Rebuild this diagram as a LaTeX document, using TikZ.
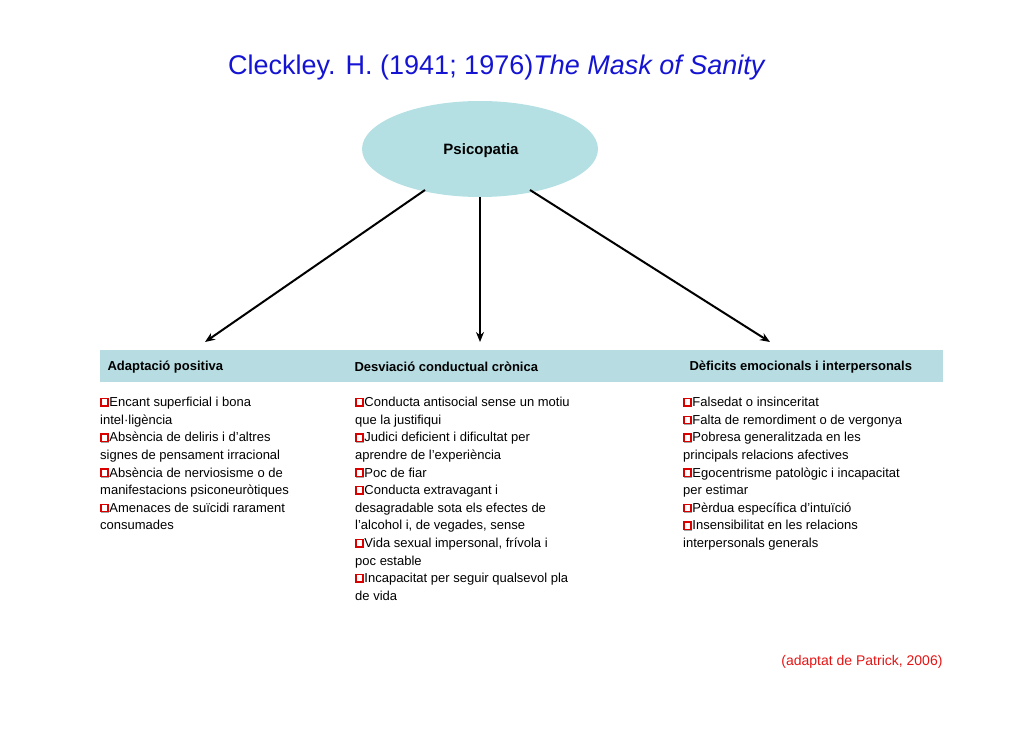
\documentclass[tikz,border=0pt]{standalone}
\usetikzlibrary{shapes.geometric,arrows.meta}
\usepackage{fontspec}
\setmainfont{Liberation Sans}
\definecolor{ellc}{RGB}{180,224,228}
\definecolor{bandc}{RGB}{183,221,226}
\definecolor{titc}{RGB}{20,20,210}
\definecolor{srcc}{RGB}{230,20,20}
\begin{document}
\newcommand\qb{\tikz[baseline=-0.5pt]{\fill[gray!70](1.2pt,-1.2pt) rectangle (9.2pt,6.8pt);\draw[red!85!black,line width=1.3pt,fill=white](0.6pt,0pt) rectangle (7.6pt,7.4pt);}}
\begin{tikzpicture}[x=1pt,y=-1pt,
  arr/.style={line width=2pt,-{Stealth[length=10pt,width=8pt]}},
  hdr/.style={anchor=west,font=\fontsize{13}{15}\selectfont\bfseries},
  col/.style={anchor=north west,align=left,inner sep=0pt,font=\fontsize{13}{17.6}\selectfont}]
\useasboundingbox (0,0) rectangle (1030,728);
\node[font=\fontsize{27}{30}\selectfont,text=titc] (title) at (497,68) {Cleckley. H. (1941; 1976)\textit{The Mask of Sanity}};
\node[ellipse,draw=none,fill=ellc,minimum width=236pt,minimum height=96pt] (ps) at (480,149) {};
\node[font=\fontsize{15}{17}\selectfont\bfseries] (pst) at (481,151) {Psicopatia};
\fill[bandc] (100,350) rectangle (943,382);
\node[hdr] (h1) at (104,367) {Adaptació positiva};
\node[hdr] (h2) at (351,367) {Desviació conductual crònica};
\node[hdr] (h3) at (686,367) {Dèficits emocionals i interpersonals};
\coordinate (e1) at (205,342);
\coordinate (e2) at (480,342);
\coordinate (e3) at (770,342);
\coordinate (s1) at (425,190);
\coordinate (s2) at (480,197);
\coordinate (s3) at (530,190);
\draw[arr] (s1) -- (e1);
\draw[arr] (s2) -- (e2);
\draw[arr] (s3) -- (e3);
\node[col] (c1) at (100,397) {\qb Encant superficial i bona\\intel·ligència\\\qb Absència de deliris i d'altres\\signes de pensament irracional\\\qb Absència de nerviosisme o de\\manifestacions psiconeuròtiques\\\qb Amenaces de suïcidi rarament\\consumades};
\node[col] (c2) at (355,397) {\qb Conducta antisocial sense un motiu\\que la justifiqui\\\qb Judici deficient i dificultat per\\aprendre de l'experiència\\\qb Poc de fiar\\\qb Conducta extravagant i\\desagradable sota els efectes de\\l'alcohol i, de vegades, sense\\\qb Vida sexual impersonal, frívola i\\poc estable\\\qb Incapacitat per seguir qualsevol pla\\de vida};
\node[col] (c3) at (683,397) {\qb Falsedat o insinceritat\\\qb Falta de remordiment o de vergonya\\\qb Pobresa generalitzada en les\\principals relacions afectives\\\qb Egocentrisme patològic i incapacitat\\per estimar\\\qb Pèrdua específica d'intuïció\\\qb Insensibilitat en les relacions\\interpersonals generals};
\node[anchor=east,font=\fontsize{14}{16}\selectfont,text=srcc] (src) at (946,662) {(adaptat de Patrick, 2006)};
\end{tikzpicture}
\end{document}
